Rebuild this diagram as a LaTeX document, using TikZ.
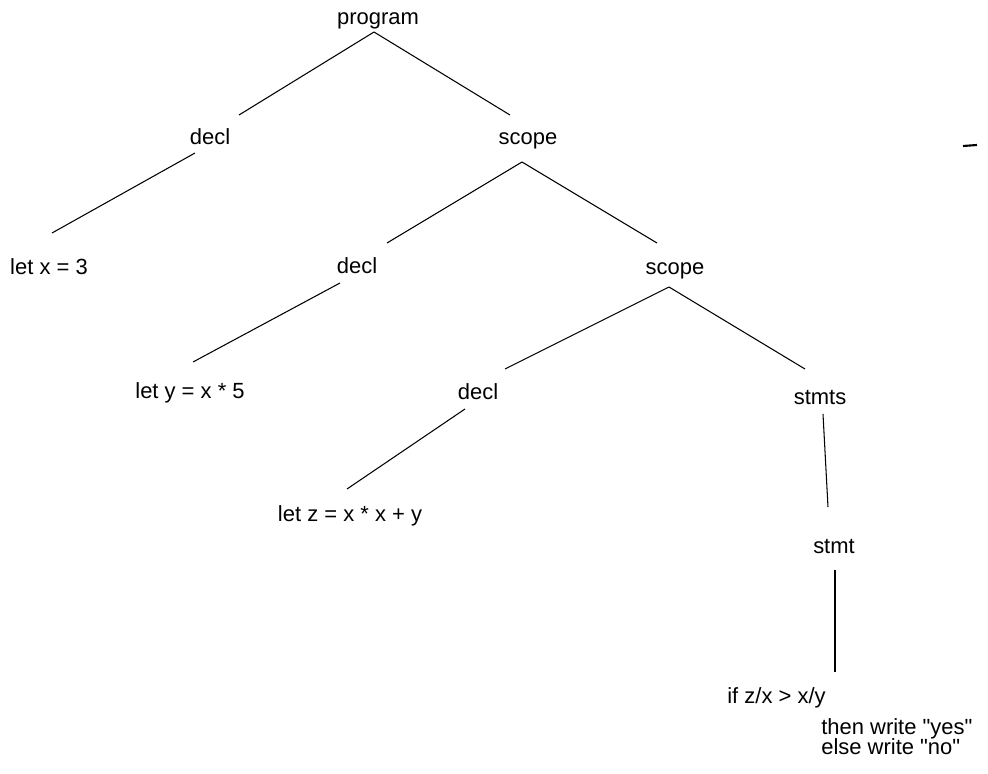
\documentclass[tikz,border=0pt]{standalone}
\usepackage{fontspec}
\setmainfont{Liberation Sans}
\usetikzlibrary{calc}

\begin{document}
\begin{tikzpicture}[x=0.02cm, y=-0.02cm,
    tnode/.style={inner sep=0pt, anchor=base, font=\fontsize{12.5}{15}\selectfont},
    edge/.style={line width=0.6pt}]

        \useasboundingbox (0,0) rectangle (988,774);

        % root
        \node[tnode] (program) at (378,25) {program};

        % outer block
        \node[tnode] (decl1) at (210,144) {decl};
        \node[tnode] (scope1) at (528,144) {scope};
        \node[tnode] (letx) at (49,274) {let x = 3};

        % middle block
        \node[tnode] (decl2) at (357,273) {decl};
        \node[tnode] (scope2) at (675,274) {scope};
        \node[tnode] (lety) at (190,398) {let y = x * 5};

        % inner block
        \node[tnode] (decl3) at (478,399) {decl};
        \node[tnode] (stmts) at (820,404) {stmts};
        \node[tnode] (letz) at (350,521) {let z = x * x + y};
        \node[tnode] (stmt) at (834,553) {stmt};
        \node[tnode, anchor=north west, align=left] (ifstmt) at (727,687)
            {if z/x > x/y\\[2.6pt]\hskip 53.5pt\relax then write \textquotedbl yes\textquotedbl\\[-3.6pt]\hskip 53.5pt\relax else write \textquotedbl no\textquotedbl};

        % Edges
        \draw [edge] ($(program.base)+(-4,7)$) -- ($(decl1.base)+(29,-29)$);
        \draw [edge] ($(program.base)+(-4,7)$) -- ($(scope1.base)+(-18,-29)$);
        \draw [edge] ($(decl1.base)+(-15,9)$) -- ($(letx.base)+(3,-41)$);

        \draw [edge] ($(scope1.base)+(-6,18)$) -- ($(decl2.base)+(30,-30)$);
        \draw [edge] ($(scope1.base)+(-6,18)$) -- ($(scope2.base)+(-18,-31)$);
        \draw [edge] ($(decl2.base)+(-17,10)$) -- ($(lety.base)+(3,-36)$);

        \draw [edge] ($(scope2.base)+(-6,13)$) -- ($(decl3.base)+(27,-30)$);
        \draw [edge] ($(scope2.base)+(-6,13)$) -- ($(stmts.base)+(-15,-35)$);
        \draw [edge] ($(decl3.base)+(-13,10)$) -- ($(letz.base)+(-3,-32)$);

        \draw [edge] ($(stmts.base)+(3,10)$) -- ($(stmt.base)+(-6,-46)$);
        \draw [edge] ($(stmt.base)+(1,17)$) -- ($(ifstmt.north west)+(108,-15)$);

        % stray mark on the page
        \draw [line width=1.2pt] (963,146) -- (977,145);

\end{tikzpicture}
\end{document}
